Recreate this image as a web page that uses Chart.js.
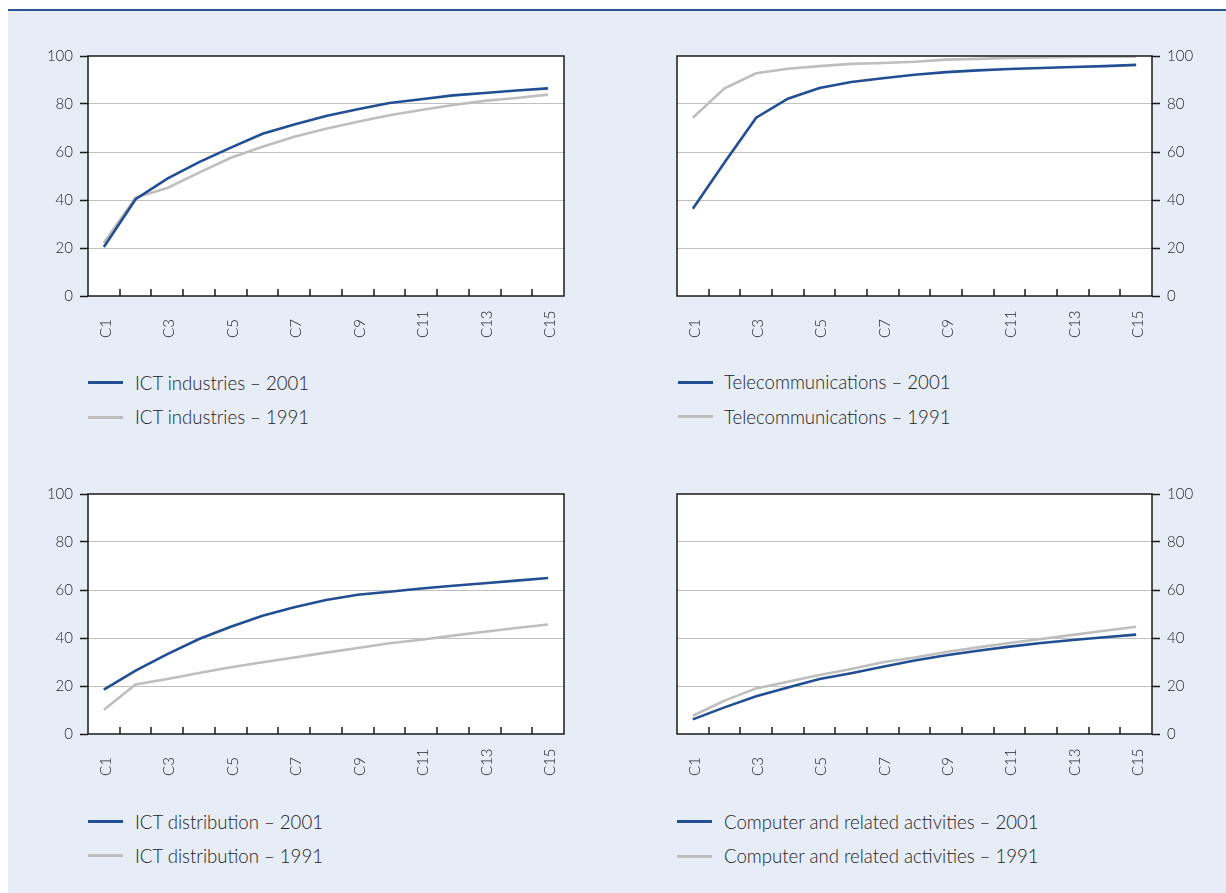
<!DOCTYPE html>
<html><head><meta charset="utf-8">
<script src="https://cdn.jsdelivr.net/npm/chart.js@4.4.1/dist/chart.umd.min.js"></script>
<style>
html,body{margin:0;padding:0;background:#fff;}
body{width:1226px;height:893px;position:relative;overflow:hidden;font-family:Lato,'Open Sans',sans-serif;}
#panel{position:absolute;left:8px;right:0;top:11px;bottom:0;background:#E7EDF6;}
#topline{position:absolute;left:8px;right:0;top:9px;height:2px;background:#2B5598;}
canvas{position:absolute;}
.leg{position:absolute;height:30px;display:flex;align-items:center;font-size:18.6px;font-weight:300;color:#222;white-space:nowrap;}
.leg .sw{display:inline-block;width:35px;height:3px;}
</style></head><body>
<div id="panel"></div><div id="topline"></div>
<canvas id="c1" width="613" height="330" style="left:0;top:30px"></canvas>
<canvas id="c2" width="613" height="330" style="left:613px;top:30px"></canvas>
<canvas id="c3" width="613" height="330" style="left:0;top:468px"></canvas>
<canvas id="c4" width="613" height="330" style="left:613px;top:468px"></canvas>
<div id="legends"></div>
<script>
const categories = ['C1','C2','C3','C4','C5','C6','C7','C8','C9','C10','C11','C12','C13','C14','C15'];
const yTickValues = [0,20,40,60,80,100];

const ictIndustries2001 = [20.4,40.3,48.9,55.8,61.8,67.6,71.5,75.0,77.8,80.4,82.0,83.6,84.6,85.6,86.5];
const ictIndustries1991 = [22.2,41.0,45.0,51.4,57.6,62.2,66.4,69.7,72.6,75.3,77.5,79.6,81.3,82.5,83.9];
const telecom2001 = [36.4,55.6,74.3,82.2,86.7,89.2,90.7,92.2,93.3,94.0,94.6,95.0,95.4,95.8,96.3];
const telecom1991 = [74.3,86.5,92.8,94.7,95.8,96.7,97.1,97.6,98.5,98.8,99.2,99.4,99.6,99.7,99.7];
const ictDistribution2001 = [18.5,26.4,33.3,39.6,44.7,49.3,52.8,55.8,58.0,59.3,60.6,61.8,62.8,63.9,65.0];
const ictDistribution1991 = [10.1,20.6,22.9,25.4,27.8,29.9,31.9,33.9,35.8,37.8,39.3,41.0,42.6,44.2,45.6];
const computer2001 = [6.1,11.1,15.7,19.4,22.9,25.3,28.0,30.6,32.8,34.7,36.4,37.9,39.2,40.3,41.4];
const computer1991 = [7.6,13.9,19.0,21.8,24.6,27.1,29.9,31.9,34.2,36.1,37.9,39.6,41.3,43.0,44.7];

const BLUE = '#224E93';
const GREY = '#BEBEBE';
const TEXT = '#262626';
const FONT = "Lato, 'Open Sans', sans-serif";

const framePlugin = {
  id: 'frame',
  beforeDraw(chart) {
    const {ctx, chartArea: a} = chart;
    ctx.save();
    ctx.fillStyle = '#ffffff';
    ctx.fillRect(a.left, a.top, a.right - a.left, a.bottom - a.top);
    ctx.restore();
  },
  afterDraw(chart) {
    const {ctx, chartArea: a} = chart;
    const x = chart.scales.x;
    ctx.save();
    ctx.strokeStyle = '#1a1a1a';
    ctx.lineWidth = 1.5;
    ctx.strokeRect(a.left, a.top, a.right - a.left, a.bottom - a.top);
    ctx.beginPath();
    for (let i = 0; i < categories.length - 1; i++) {
      const px = Math.round((x.getPixelForValue(i) + x.getPixelForValue(i + 1)) / 2);
      ctx.moveTo(px, a.bottom);
      ctx.lineTo(px, a.bottom - 7);
    }
    ctx.stroke();
    ctx.fillStyle = TEXT;
    ctx.font = '300 15px ' + FONT;
    ctx.textAlign = 'left';
    ctx.textBaseline = 'middle';
    categories.forEach((c, i) => {
      if (i % 2) return;
      const px = x.getPixelForValue(i) + 2;
      ctx.save();
      ctx.translate(px, a.bottom + 42);
      ctx.rotate(-Math.PI / 2);
      ctx.fillText(c, 0, 0);
      ctx.restore();
    });
    ctx.restore();
  }
};

function makeChart(id, side, s2001, s1991, label2001, label1991) {
  const left = side === 'left';
  return new Chart(document.getElementById(id), {
    type: 'line',
    data: {
      labels: categories,
      datasets: [
        {label: label2001, data: s2001, borderColor: BLUE, backgroundColor: BLUE, borderWidth: 2.6, pointRadius: 0, tension: 0, fill: false},
        {label: label1991, data: s1991, borderColor: GREY, backgroundColor: GREY, borderWidth: 2.6, pointRadius: 0, tension: 0, fill: false}
      ]
    },
    options: {
      responsive: false,
      animation: false,
      devicePixelRatio: 1,
      layout: {padding: left ? {left: 0, right: 49, top: 26, bottom: 0} : {left: 64, right: 0, top: 26, bottom: 0}},
      plugins: {legend: {display: false}, tooltip: {enabled: false}},
      scales: {
        x: {
          type: 'category', offset: true,
          grid: {display: false}, border: {display: false},
          ticks: {display: false},
          afterFit: s => { s.height = 64; }
        },
        y: {
          position: side, min: 0, max: 100,
          afterBuildTicks: s => { s.ticks = yTickValues.map(v => ({value: v})); },
          afterFit: s => { s.width = left ? 88 : 74; },
          border: {display: false},
          grid: {
            color: c => (c.tick && (c.tick.value === 0 || c.tick.value === 100)) ? 'rgba(0,0,0,0)' : '#BFBFBF',
            lineWidth: 1, tickLength: 8, tickColor: '#1a1a1a', tickWidth: 1.5
          },
          ticks: {font: {family: FONT, size: 15, weight: 300}, color: TEXT, padding: 7}
        }
      }
    },
    plugins: [framePlugin]
  });
}

const charts = [
  makeChart('c1', 'left', ictIndustries2001, ictIndustries1991, 'ICT industries – 2001', 'ICT industries – 1991'),
  makeChart('c2', 'right', telecom2001, telecom1991, 'Telecommunications – 2001', 'Telecommunications – 1991'),
  makeChart('c3', 'left', ictDistribution2001, ictDistribution1991, 'ICT distribution – 2001', 'ICT distribution – 1991'),
  makeChart('c4', 'right', computer2001, computer1991, 'Computer and related activities – 2001', 'Computer and related activities – 1991')
];

// HTML legends built from the chart datasets
const legendPos = [
  {x: 88, y: [382.5, 417], gap: 12},
  {x: 678, y: [382, 416.5], gap: 11},
  {x: 88, y: [821.5, 855.5], gap: 12},
  {x: 677, y: [821.5, 856], gap: 12}
];
const lg = document.getElementById('legends');
charts.forEach((ch, k) => {
  ch.data.datasets.forEach((ds, j) => {
    const row = document.createElement('div');
    row.className = 'leg';
    row.style.left = legendPos[k].x + 'px';
    row.style.top = (legendPos[k].y[j] - 15) + 'px';
    const sw = document.createElement('span');
    sw.className = 'sw';
    sw.style.background = ds.borderColor;
    sw.style.marginRight = legendPos[k].gap + 'px';
    const tx = document.createElement('span');
    tx.textContent = ds.label;
    row.appendChild(sw); row.appendChild(tx);
    lg.appendChild(row);
  });
});
</script>
</body></html>
